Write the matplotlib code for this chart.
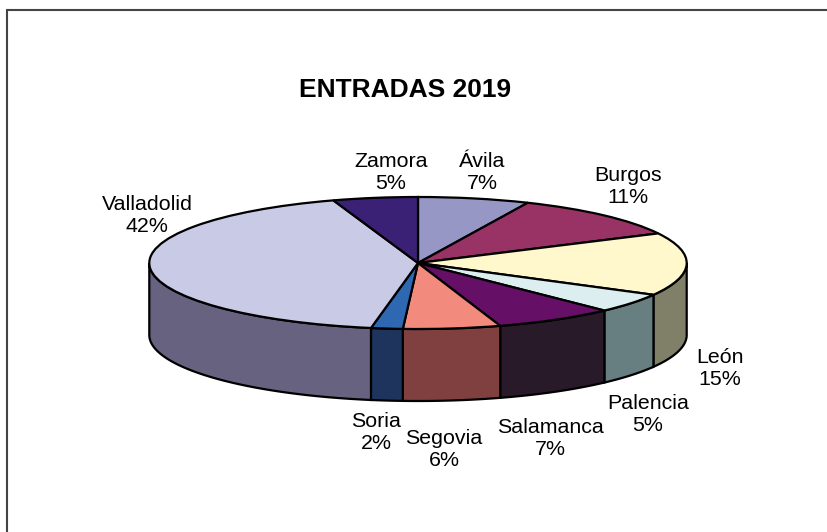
import numpy as np
import matplotlib
matplotlib.use('Agg')
import matplotlib.pyplot as plt

plt.rcParams['font.family'] = ['Liberation Sans', 'DejaVu Sans']

# Slices, clockwise from the top
provincias = ['Ávila', 'Burgos', 'León', 'Palencia', 'Salamanca', 'Segovia', 'Soria', 'Valladolid', 'Zamora']
entradas = [6.7, 10.9, 15.4, 4.8, 7.25, 5.85, 1.9, 42.1, 5.1]

colores = ['#9797C5', '#993366', '#FFF8CC', '#DDEEF0', '#660F66', '#F28A7E', '#2E68B2', '#C9CAE6', '#3A2175']
colores_lado = ['#4C4C63', '#4D1A33', '#808068', '#677F80', '#291A29', '#804040', '#1E345C', '#66627F', '#1D113B']

# Label centres in pixels
pos_x = [482, 628, 720, 648, 550, 444, 376, 147, 391]
pos_y = [172.5, 186.5, 368.5, 414.5, 438.5, 449.5, 432.5, 215.5, 172.5]

# Pie geometry in pixels
W, H = 827, 532
cx, cy = 418, 263
rx, ry = 268.7, 66
depth = 72
lw = 1.6

fig = plt.figure(figsize=(W / 100, H / 100), dpi=100, facecolor='white')

# Background axes in pixel units, for the frame and the texts
bg = fig.add_axes([0, 0, 1, 1])
bg.set_xlim(0, W)
bg.set_ylim(H, 0)
bg.axis('off')
bg.plot([7, 7], [H, 10], color='#444444', lw=1.5, solid_capstyle='butt')
bg.plot([6, W], [10, 10], color='#444444', lw=1.5, solid_capstyle='butt')

# Pie axes: unit circle squashed into the ellipse
ax = fig.add_axes([(cx - rx) / W, (H - (cy + ry + depth)) / H, 2 * rx / W, (2 * ry + depth) / H])
wedges, _ = ax.pie(entradas, colors=colores, startangle=90, counterclock=False,
                   wedgeprops={'edgecolor': 'black', 'linewidth': lw, 'zorder': 3})
for w in wedges:
    w.set_clip_on(False)
ax.set_aspect('auto')
ax.set_xlim(-1, 1)
d = depth / ry
ax.set_ylim(-1 - d, 1)

# Side walls, only the front half of the rim shows
fin = np.cumsum(entradas) / np.sum(entradas) * 2 * np.pi
ini = np.concatenate([[0], fin[:-1]])
for a, b, c in zip(ini, fin, colores_lado):
    a2, b2 = max(a, np.pi / 2), min(b, 3 * np.pi / 2)
    if b2 <= a2:
        continue
    t = np.linspace(a2, b2, 80)
    xs = np.concatenate([np.sin(t), np.sin(t[::-1])])
    ys = np.concatenate([np.cos(t), np.cos(t[::-1]) - d])
    ax.fill(xs, ys, facecolor=c, edgecolor='black', linewidth=lw, zorder=2, clip_on=False)

bg.text(405, 90, 'ENTRADAS 2019', fontsize=19, fontweight='bold', ha='center', va='center', color='black')
for nombre, v, x, y in zip(provincias, entradas, pos_x, pos_y):
    bg.text(x, y, f'{nombre}\n{round(v)}%', fontsize=15.4, ha='center', va='center',
            color='black', linespacing=1.26)

fig.savefig('out.png', dpi=100)
